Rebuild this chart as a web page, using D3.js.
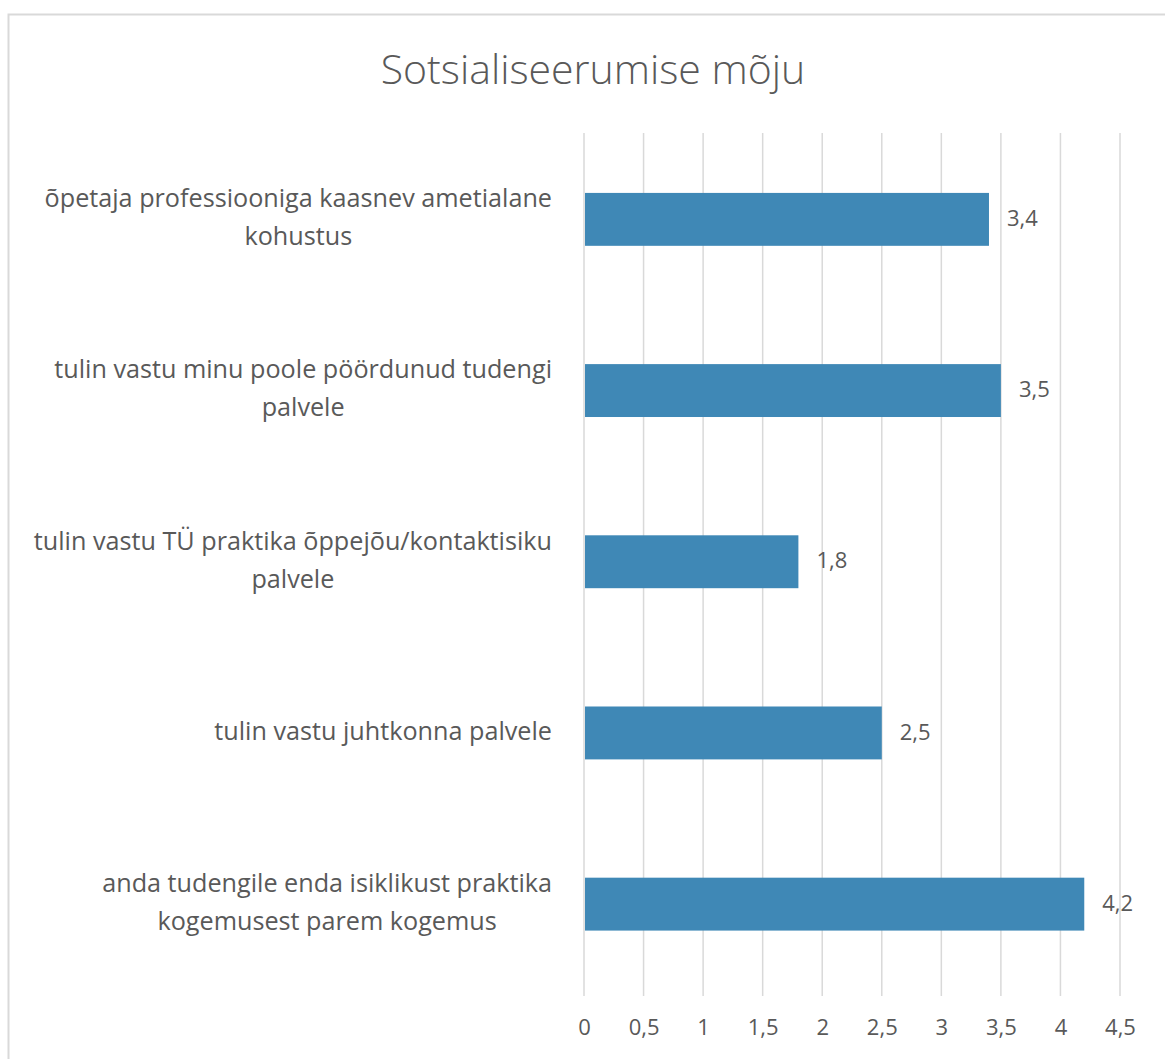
<!DOCTYPE html>
<html>
<head>
<meta charset="utf-8">
<script src="https://cdn.jsdelivr.net/npm/d3@7"></script>
<style>
  body { margin: 0; background: #fff; }
  svg text { font-family: 'Open Sans', sans-serif; fill: #595959; }
</style>
</head>
<body>
<div id="chart"></div>
<script>
const categories = [
  ['õpetaja professiooniga kaasnev ametialane', 'kohustus'],
  ['tulin vastu minu poole pöördunud tudengi', 'palvele'],
  ['tulin vastu TÜ praktika õppejõu/kontaktisiku', 'palvele'],
  ['tulin vastu juhtkonna palvele'],
  ['anda tudengile enda isiklikust praktika', 'kogemusest parem kogemus']
]
const values = [3.4, 3.5, 1.8, 2.5, 4.2]
const ticks = [0, 0.5, 1, 1.5, 2, 2.5, 3, 3.5, 4, 4.5]
const title = 'Sotsialiseerumise mõju'

const width = 1165
const height = 1059
const margin = { top: 133, right: 45, bottom: 63, left: 584 }

const svg = d3
  .select('#chart')
  .append('svg')
  .attr('width', width)
  .attr('height', height)

// chart border
svg
  .append('rect')
  .attr('x', 8.5)
  .attr('y', 14.5)
  .attr('width', width + 20)
  .attr('height', height + 20)
  .attr('fill', 'none')
  .attr('stroke', '#d9d9d9')
  .attr('stroke-width', 2)

svg
  .append('text')
  .attr('x', 593)
  .attr('y', 84)
  .attr('text-anchor', 'middle')
  .attr('font-size', 41)
  .attr('font-weight', 300)
  .text(title)

const xScale = d3
  .scaleLinear()
  .domain([0, 4.5])
  .range([margin.left, 1120])

const yScale = d3
  .scaleBand()
  .domain(d3.range(categories.length))
  .range([margin.top, 990.5])
  .paddingInner(0.691)
  .paddingOuter(0.35)

const fmt = d => String(d).replace('.', ',')

// grid lines
svg
  .append('g')
  .selectAll('line')
  .data(ticks)
  .enter()
  .append('line')
  .attr('x1', d => xScale(d))
  .attr('x2', d => xScale(d))
  .attr('y1', margin.top)
  .attr('y2', height - margin.bottom)
  .attr('stroke', '#d9d9d9')
  .attr('stroke-width', 1.5)

// x axis labels
const xAxis = d3.axisBottom(xScale)
  .tickValues(ticks)
  .tickFormat(fmt)
  .tickSize(0)
  .tickPadding(0)

svg
  .append('g')
  .attr('class', 'x-axis')
  .attr('transform', 'translate(0,' + 1019 + ')')
  .call(xAxis)
  .call(g => g.select('.domain').remove())
  .call(g => g.selectAll('text')
    .attr('font-size', 22)
    .attr('dy', '0.72em')
    .attr('fill', '#595959'))

// bars
svg
  .append('g')
  .selectAll('rect')
  .data(values)
  .enter()
  .append('rect')
  .attr('x', xScale(0) + 1)
  .attr('y', (d, i) => yScale(i))
  .attr('width', d => xScale(d) - xScale(0) - 1)
  .attr('height', yScale.bandwidth())
  .attr('fill', '#3f88b6')

// value labels
svg
  .append('g')
  .selectAll('text')
  .data(values)
  .enter()
  .append('text')
  .attr('x', d => xScale(d) + 18)
  .attr('y', (d, i) => yScale(i) + yScale.bandwidth() / 2)
  .attr('dy', '0.3em')
  .attr('font-size', 22)
  .text(fmt)

// category labels: block right aligned, lines centered in block
const labelRight = 552
const lineHeight = 38
categories.forEach((lines, i) => {
  const g = svg.append('g')
  const cy = yScale(i) + yScale.bandwidth() / 2 - 2
  const texts = lines.map((t, j) =>
    g.append('text')
      .attr('font-size', 25.2)
      .attr('text-anchor', 'middle')
      .attr('y', cy + (j - (lines.length - 1) / 2) * lineHeight)
      .attr('dy', '0.35em')
      .text(t)
  )
  const maxW = d3.max(texts, t => t.node().getComputedTextLength())
  texts.forEach(t => t.attr('x', labelRight - maxW / 2))
})
</script>
</body>
</html>
